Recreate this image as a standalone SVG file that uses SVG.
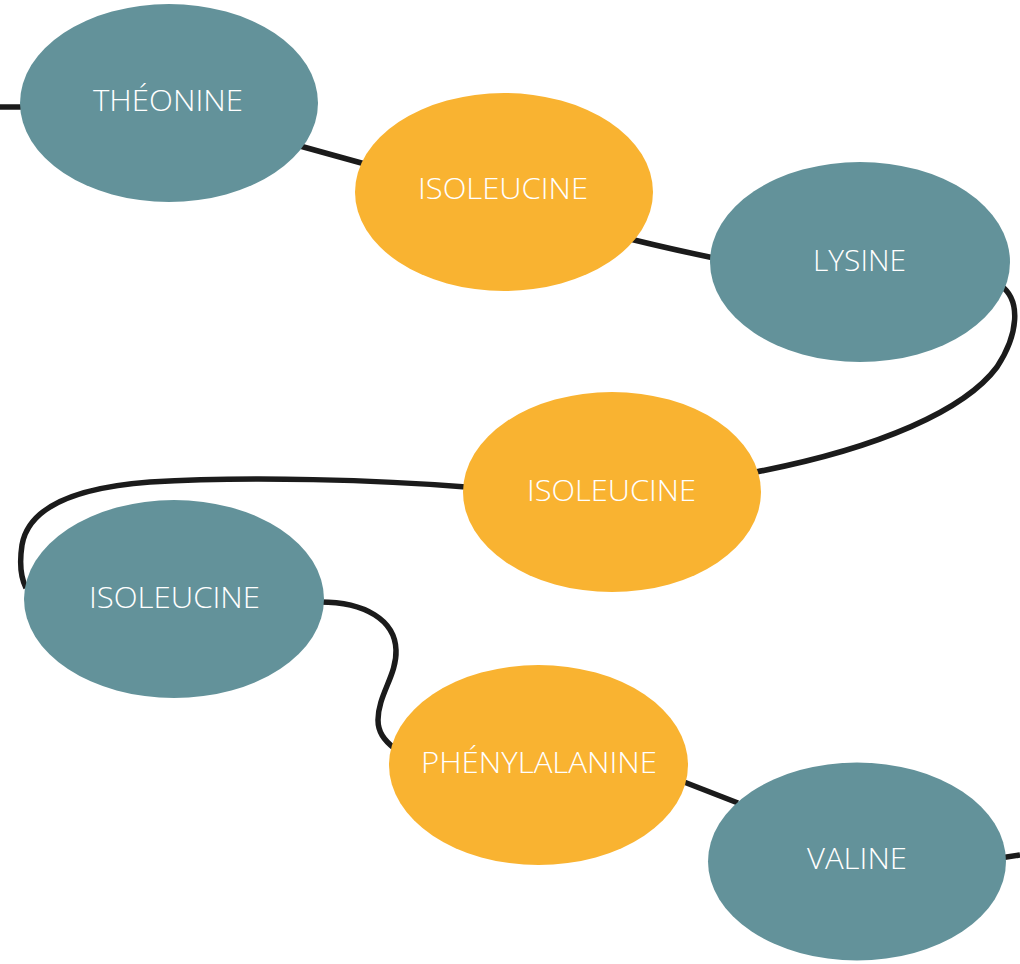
<svg xmlns="http://www.w3.org/2000/svg" width="1020" height="964" viewBox="0 0 1020 964">
<style>
.teal{fill:#63929A}
.orange{fill:#F9B331}
.conn{fill:none;stroke:#1b1b1b;stroke-width:5.5;stroke-linecap:butt}
.lbl{font-family:"Open Sans","Liberation Sans",sans-serif;font-weight:300;font-size:30px;fill:#ffffff;text-anchor:middle}
</style>
<rect width="1020" height="964" fill="#ffffff"/>
<g id="connectors">
<path class="conn" d="M0,107 L24,107"/>
<path class="conn" d="M300,146 L365,164"/>
<path class="conn" d="M630,239 Q675,250 714,258"/>
<path class="conn" d="M1000,285 C1022,300 1018,335 997,367 C965,410 880,448 756,472"/>
<path class="conn" d="M466,487 C380,480 250,476 150,482 C70,488 28,510 22,545 C19,565 21,578 26,588"/>
<path class="conn" d="M320,602 C365,602 395,620 396,650 C397,675 378,695 378,720 C378,732 384,740 394,748"/>
<path class="conn" d="M684,782 L738,803"/>
<path class="conn" d="M1000,858 L1020,855"/>
</g>
<g id="n1"><ellipse class="teal" cx="169" cy="103" rx="149" ry="99"/><text class="lbl" x="168" y="111" textLength="150" lengthAdjust="spacingAndGlyphs">THÉONINE</text></g>
<g id="n2"><ellipse class="orange" cx="504" cy="192" rx="149" ry="99"/><text class="lbl" x="503" y="199" textLength="170" lengthAdjust="spacingAndGlyphs">ISOLEUCINE</text></g>
<g id="n3"><ellipse class="teal" cx="860" cy="262" rx="150" ry="100"/><text class="lbl" x="859.5" y="271" textLength="93" lengthAdjust="spacingAndGlyphs">LYSINE</text></g>
<g id="n4"><ellipse class="orange" cx="612" cy="492" rx="149" ry="100"/><text class="lbl" x="611.5" y="501" textLength="169" lengthAdjust="spacingAndGlyphs">ISOLEUCINE</text></g>
<g id="n5"><ellipse class="teal" cx="174" cy="599" rx="150" ry="99"/><text class="lbl" x="174.5" y="608" textLength="171" lengthAdjust="spacingAndGlyphs">ISOLEUCINE</text></g>
<g id="n6"><ellipse class="orange" cx="538.5" cy="765" rx="149.5" ry="100"/><text class="lbl" x="539" y="773" textLength="236" lengthAdjust="spacingAndGlyphs">PHÉNYLALANINE</text></g>
<g id="n7"><ellipse class="teal" cx="857" cy="861.5" rx="149" ry="99"/><text class="lbl" x="857" y="869" textLength="100" lengthAdjust="spacingAndGlyphs">VALINE</text></g>
</svg>
